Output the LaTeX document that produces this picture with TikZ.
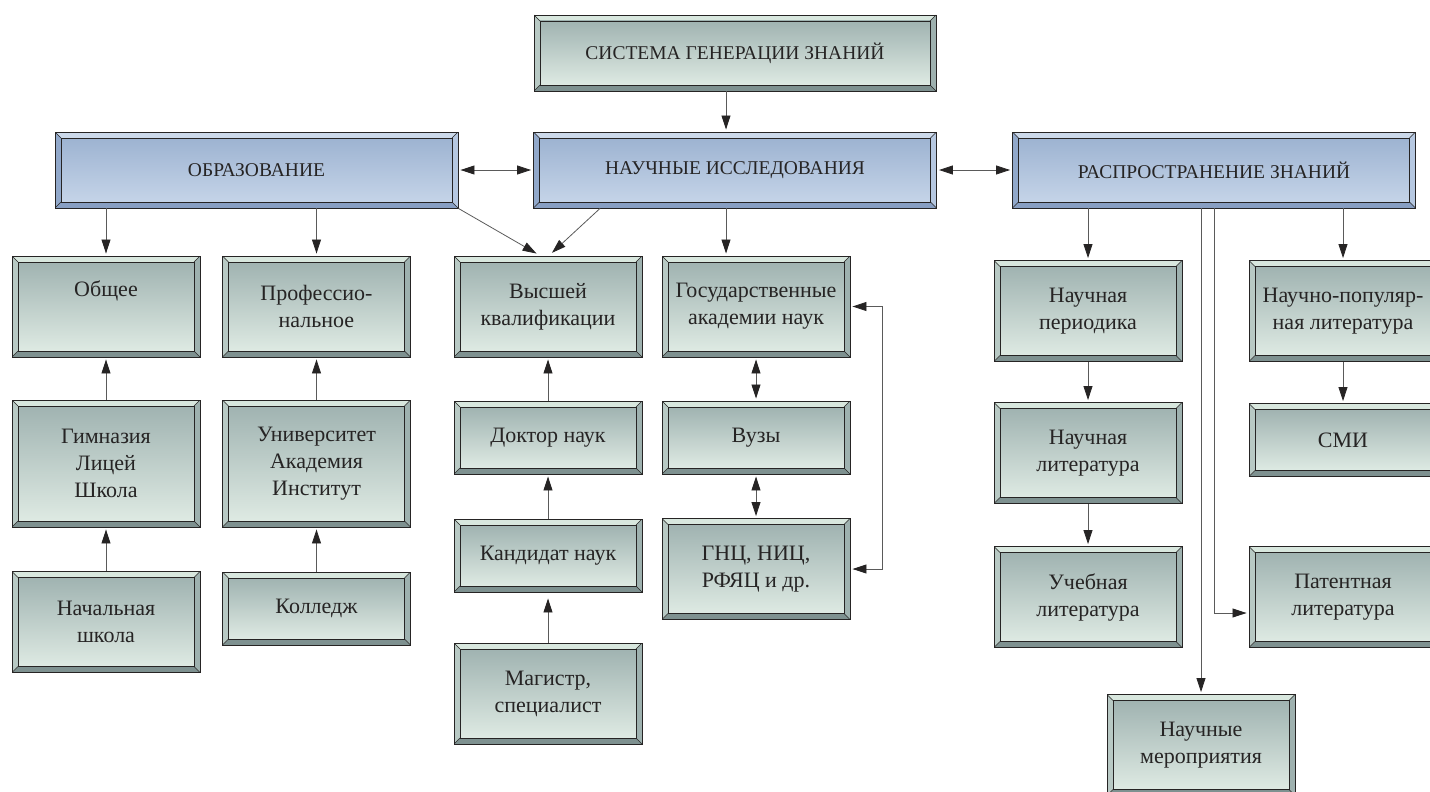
\documentclass[tikz,border=0pt]{standalone}
\usepackage{fontspec}
\setmainfont{Liberation Serif}
\usetikzlibrary{arrows.meta}

\definecolor{edge}{RGB}{38,36,36}
\definecolor{wire}{RGB}{90,90,90}
\definecolor{gnTop}{RGB}{160,179,177}
\definecolor{gnBot}{RGB}{222,234,227}
\definecolor{gnHi}{RGB}{216,231,222}
\definecolor{gnLeft}{RGB}{184,201,196}
\definecolor{gnRight}{RGB}{158,177,175}
\definecolor{gnLo}{RGB}{126,145,144}
\definecolor{blTop}{RGB}{157,179,209}
\definecolor{blBot}{RGB}{197,212,232}
\definecolor{blHi}{RGB}{204,217,234}
\definecolor{blLeft}{RGB}{145,168,202}
\definecolor{blRight}{RGB}{182,200,225}
\definecolor{blLo}{RGB}{136,159,195}

\begin{document}
\begin{tikzpicture}[x=1pt, y=-1pt,
bevel/.style={draw=edge, line width=0.9pt, fill=bvHi, inner sep=2pt, align=center, text=edge,
  path picture={
    \coordinate (bsw) at (path picture bounding box.south west);
    \coordinate (bne) at (path picture bounding box.north east);
    \coordinate (bse) at (bsw -| bne);
    \coordinate (bnw) at (bsw |- bne);
    \coordinate (isw) at ([shift={(6pt,6pt)}]bsw);
    \coordinate (ise) at ([shift={(-6pt,6pt)}]bse);
    \coordinate (ine) at ([shift={(-6pt,-6pt)}]bne);
    \coordinate (inw) at ([shift={(6pt,-6pt)}]bnw);
    \fill[bvLo] (bsw) -- (bse) -- (ise) -- (isw) -- cycle;
    \fill[bvLeft] (bsw) -- (bnw) -- (inw) -- (isw) -- cycle;
    \fill[bvRight] (bse) -- (bne) -- (ine) -- (ise) -- cycle;
    \shade[top color=bvTop, bottom color=bvBot, draw=edge, line width=0.9pt] (isw) rectangle (ine);
    \draw[edge, line width=0.5pt] (bsw) -- (isw) (bse) -- (ise) (bne) -- (ine) (bnw) -- (inw);
  }},
greenbox/.style={/utils/exec={\colorlet{bvHi}{gnHi}\colorlet{bvLo}{gnLo}\colorlet{bvLeft}{gnLeft}%
  \colorlet{bvRight}{gnRight}\colorlet{bvTop}{gnTop}\colorlet{bvBot}{gnBot}},
  bevel, font=\fontsize{22}{27}\selectfont, minimum width=188, minimum height=101},
bluebox/.style={/utils/exec={\colorlet{bvHi}{blHi}\colorlet{bvLo}{blLo}\colorlet{bvLeft}{blLeft}%
  \colorlet{bvRight}{blRight}\colorlet{bvTop}{blTop}\colorlet{bvBot}{blBot}},
  bevel, font=\fontsize{19.5}{23}\selectfont, minimum width=403, minimum height=76},
short/.style={minimum height=73},
tall/.style={minimum height=127},
link/.style={draw=wire, line width=0.8pt, shorten >=2pt, -{Triangle[length=14pt,width=9pt,color=edge]}},
duplex/.style={draw=wire, line width=0.8pt, shorten >=2pt, shorten <=2pt,
  {Triangle[length=14pt,width=9pt,color=edge]}-{Triangle[length=14pt,width=9pt,color=edge]}},
]
\useasboundingbox (0,0) rectangle (1430,792);

% Top and second level
\node[greenbox, font=\fontsize{19.5}{23}\selectfont, minimum width=402, minimum height=76] (sys) at (735,53) {СИСТЕМА ГЕНЕРАЦИИ ЗНАНИЙ};
\node[bluebox] (obr) at (256.5,170) {ОБРАЗОВАНИЕ};
\node[bluebox] (nauch) at (735,170) {НАУЧНЫЕ ИССЛЕДОВАНИЯ};
\node[bluebox] (rasp) at (1214,170) {РАСПРОСТРАНЕНИЕ ЗНАНИЙ};

% Education branch
\node[greenbox] (obsh) at (106,306.5) {Общее\\\strut};
\node[greenbox, tall] (gimn) at (106,463.5) {Гимназия\\Лицей\\Школа};
\node[greenbox] (nach) at (106,622) {Начальная\\школа};
\node[greenbox] (prof) at (316.5,306.5) {Профессио-\\нальное};
\node[greenbox, tall] (univ) at (316.5,463.5) {Университет\\Академия\\Институт};
\node[greenbox, short] (koll) at (316.5,608.5) {Колледж};

% Research branch
\node[greenbox] (vyssh) at (548,306.5) {Высшей\\квалификации};
\node[greenbox, short] (doktor) at (548,437.5) {Доктор наук};
\node[greenbox, short] (kand) at (548,555.5) {Кандидат наук};
\node[greenbox] (magistr) at (548,693.5) {Магистр,\\специалист};
\node[greenbox] (gos) at (756,306.5) {Государственные\\академии наук};
\node[greenbox, short] (vuzy) at (756,437.5) {Вузы};
\node[greenbox] (gnc) at (756,569) {ГНЦ, НИЦ,\\РФЯЦ и др.};

% Dissemination branch
\node[greenbox] (period) at (1088,311) {Научная\\периодика};
\node[greenbox] (nauchlit) at (1088,453) {Научная\\литература};
\node[greenbox] (ucheb) at (1088,597) {Учебная\\литература};
\node[greenbox] (popul) at (1343,311) {Научно-популяр-\\ная литература};
\node[greenbox, short] (smi) at (1343,440) {СМИ};
\node[greenbox] (patent) at (1343,597) {Патентная\\литература};
\node[greenbox] (merop) at (1201,745) {Научные\\мероприятия};

% Draw connecting arrows
\draw[link] ([xshift=-9pt]sys.south) to ([xshift=-9pt]nauch.north);
\draw[duplex] (obr) to (nauch);
\draw[duplex] (nauch) to (rasp);

\draw[link] (obsh.north |- obr.south) to (obsh.north);
\draw[link] (prof.north |- obr.south) to (prof.north);
\draw[link] (gimn) to (obsh);
\draw[link] (nach) to (gimn);
\draw[link] (univ) to (prof);
\draw[link] (koll) to (univ);

\draw[link, shorten >=4pt] (obr.south east) to ([xshift=-8pt]vyssh.north);
\draw[link, shorten >=4pt] ([xshift=-135pt]nauch.south) to ([xshift=1pt]vyssh.north);
\draw[link] ([xshift=-9pt]nauch.south) to ([xshift=-9pt]nauch.south |- gos.north);
\draw[link] (doktor) to (vyssh);
\draw[link] (kand) to (doktor);
\draw[link, shorten >=6pt] (magistr) to (kand);
\draw[duplex] (gos) to (vuzy);
\draw[duplex] (vuzy) to (gnc);
\draw[duplex] (gos.east) -- ++(32,0) |- (gnc.east);

\draw[link] (period.north |- rasp.south) to (period.north);
\draw[link] (popul.north |- rasp.south) to (popul.north);
\draw[link] (period) to (nauchlit);
\draw[link] (nauchlit) to (ucheb);
\draw[link] (popul) to (smi);
\draw[link] (merop.north |- rasp.south) to (merop.north);
\draw[link] (rasp.south) |- ([yshift=-16pt]patent.west);

\end{tikzpicture}
\end{document}
